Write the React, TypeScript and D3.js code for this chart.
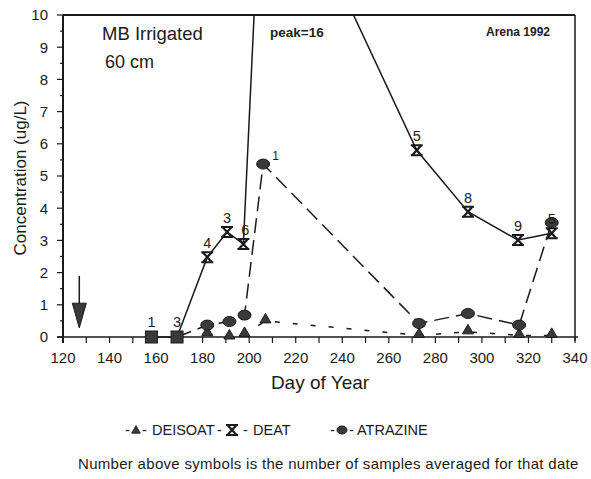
import React from "react";
import * as d3 from "d3";

// ---- data ----
const squareDays = [158, 169];
const squareLabels = ["1", "3"];

const deatDays = [158, 169, 182, 190.5, 197.5, 206, 272, 294, 315.5, 330];
const deatVals = [0, 0, 2.48, 3.26, 2.89, 16, 5.8, 3.89, 3.01, 3.22];
const deatLabels = ["", "", "4", "3", "6", "", "5", "8", "9", "5"];

const atrazineDays = [169, 182, 191.5, 198, 206, 273, 294, 316, 330];
const atrazineVals = [0, 0.37, 0.48, 0.68, 5.37, 0.42, 0.73, 0.37, 3.55];
const atrazineLabels = ["", "", "", "", "1", "", "", "", ""];

const deisoatDays = [182, 191.5, 198, 207, 273, 294, 316, 330];
const deisoatVals = [0.1, 0, 0.08, 0.5, 0.05, 0.16, 0.05, 0.05];

const xTicks = [120, 140, 160, 180, 200, 220, 240, 260, 280, 300, 320, 340];
const yTicks = [0, 1, 2, 3, 4, 5, 6, 7, 8, 9, 10];
const arrowDay = 127;
const arrowTop = 1.9;
const arrowTip = 0.28;

const W = 591, H = 479;
const font = "'Liberation Sans', Arial, Helvetica, sans-serif";

export default function App() {
  const x = d3.scaleLinear().domain([120, 340]).range([63, 575]);
  const y = d3.scaleLinear().domain([0, 10]).range([337, 15]);
  const line = d3.line<[number, number]>().x(d => x(d[0])).y(d => y(d[1]));

  const deatPts: [number, number][] = deatDays.map((d, i) => [d, deatVals[i]]);
  const atrPts: [number, number][] = atrazineDays.map((d, i) => [d, atrazineVals[i]]);
  const deiPts: [number, number][] = deisoatDays.map((d, i) => [d, deisoatVals[i]]);

  const minorX = d3.range(120, 341, 10);
  const minorY = d3.range(0, 10.01, 0.5);

  const ink = "#1a1a1a";
  const fill = "#3a3a3a";

  const hourglass = (cx: number, cy: number, k: number) => (
    <g key={"h" + k} transform={`translate(${cx},${cy})`}>
      <path d="M-6,-5 L6,-5 M-6,5 L6,5" stroke={ink} strokeWidth={2} />
      <path d="M-4.5,-5 L4.5,5 M4.5,-5 L-4.5,5" stroke={ink} strokeWidth={2.2} />
    </g>
  );
  const tri = (cx: number, cy: number, k: number, s = 1) => (
    <path key={"t" + k} transform={`translate(${cx},${cy}) scale(${s})`} d="M0,-5.5 L5.5,4 L-5.5,4 Z" fill={fill} stroke={ink} strokeWidth={1} />
  );

  return (
    <svg width={W} height={H} style={{ position: "absolute", left: 0, top: 0, background: "#fff" }} fontFamily={font}>
      <defs>
        <clipPath id="plot">
          <rect x={x(120)} y={y(10)} width={x(340) - x(120)} height={y(0) - y(10) + 8} />
        </clipPath>
      </defs>
      <rect width={W} height={H} fill="#fff" />

      {/* frame */}
      <line x1={x(120)} x2={x(340)} y1={y(10)} y2={y(10)} stroke={ink} strokeWidth={2} />
      <line x1={x(340)} x2={x(340)} y1={y(10)} y2={y(0) + 4} stroke={ink} strokeWidth={1.5} />
      <line x1={x(120)} x2={x(120)} y1={y(10)} y2={y(0) + 6} stroke={ink} strokeWidth={2} />
      <line x1={x(120) - 6} x2={x(340) + 3} y1={y(0)} y2={y(0)} stroke={ink} strokeWidth={1.5} />

      {/* y ticks */}
      {minorY.map(v => (
        <line key={"my" + v} x1={x(120) - (Number.isInteger(v) ? 6 : 3)} x2={x(120)} y1={y(v)} y2={y(v)} stroke={ink} strokeWidth={1.2} />
      ))}
      {yTicks.map(v => (
        <text key={"yt" + v} x={48} y={y(v)} dy="0.36em" textAnchor="end" fontSize={15} fill={ink}>{v}</text>
      ))}
      {/* x ticks */}
      {minorX.map(v => (
        <line key={"mx" + v} x1={x(v)} x2={x(v)} y1={y(0)} y2={y(0) + 6} stroke={ink} strokeWidth={1.2} />
      ))}
      {xTicks.map(v => (
        <text key={"xt" + v} x={x(v)} y={y(0) + 26} textAnchor="middle" fontSize={15} fill={ink}>{v}</text>
      ))}

      {/* axis titles */}
      <text x={320} y={389} textAnchor="middle" fontSize={19} fill={ink}>Day of Year</text>
      <text transform={`translate(26,${178}) rotate(-90)`} textAnchor="middle" fontSize={17} fill={ink}>Concentration (ug/L)</text>

      {/* annotations */}
      <text x={102} y={40} fontSize={18.5} fill={ink}>MB Irrigated</text>
      <text x={105} y={68} fontSize={18} fill={ink}>60 cm</text>
      <text x={270} y={37} fontSize={13.5} fontWeight="bold" fill="#222">peak=16</text>
      <text x={486} y={36} fontSize={12} fontWeight="bold" fill="#222">Arena 1992</text>

      {/* arrow */}
      <line x1={x(arrowDay)} x2={x(arrowDay)} y1={y(arrowTop)} y2={y(1)} stroke={ink} strokeWidth={1.5} />
      <path d={`M${x(arrowDay) - 7},${y(1.05)} L${x(arrowDay) + 7},${y(1.05)} L${x(arrowDay)},${y(arrowTip)} Z`} fill={fill} stroke={ink} strokeWidth={1} />

      <g clipPath="url(#plot)">
        <path d={line(deiPts) || ""} fill="none" stroke={ink} strokeWidth={1.5} strokeDasharray="5,13" />
        <path d={line(atrPts) || ""} fill="none" stroke={ink} strokeWidth={1.5} strokeDasharray="15,7" />
        <path d={line(deatPts) || ""} fill="none" stroke={ink} strokeWidth={1.5} />
      </g>

      {/* markers */}
      {deisoatDays.map((d, i) => tri(x(d), y(deisoatVals[i]) - 2, i))}
      {atrazineDays.map((d, i) => d === 169 ? null : (
        <ellipse key={"c" + i} cx={x(d)} cy={y(atrazineVals[i])} rx={6.5} ry={5} fill={fill} stroke={ink} strokeWidth={1} />
      ))}
      {deatDays.map((d, i) => (deatVals[i] > 0 && deatVals[i] <= 10) ? hourglass(x(d), y(deatVals[i]), i) : null)}
      {squareDays.map((d, i) => (
        <rect key={"s" + i} x={x(d) - 6} y={y(0) - 6} width={12} height={12} fill={fill} stroke={ink} strokeWidth={1} />
      ))}

      {/* sample counts */}
      {squareDays.map((d, i) => (
        <text key={"sl" + i} x={x(d)} y={y(0) - 10} textAnchor="middle" fontSize={14.5} fill={ink}>{squareLabels[i]}</text>
      ))}
      {deatDays.map((d, i) => deatLabels[i] && deatVals[i] <= 10 ? (
        <text key={"dl" + i} x={x(d) + (d === 197.5 ? 2 : 0)} y={y(deatVals[i]) - 9} textAnchor="middle" fontSize={14.5} fill={ink}>{deatLabels[i]}</text>
      ) : null)}
      {atrazineDays.map((d, i) => atrazineLabels[i] ? (
        <text key={"al" + i} x={x(d) + 9} y={y(atrazineVals[i]) - 4} fontSize={12} fill={ink}>{atrazineLabels[i]}</text>
      ) : null)}

      {/* legend */}
      <g fontSize={14.5} fill={ink}>
        <text x={125} y={435}>-</text>
        {tri(136, 430, 100, 0.8)}
        <text x={142} y={435}>-</text>
        <text x={152} y={435}>DEISOAT</text>
        <text x={217} y={435}>-</text>
        {hourglass(232, 430, 100)}
        <text x={243} y={435}>-</text>
        <text x={253} y={435}>DEAT</text>
        <text x={330} y={435}>-</text>
        <ellipse cx={342} cy={430} rx={5} ry={4} fill={fill} stroke={ink} />
        <text x={349} y={435}>-</text>
        <text x={357} y={435}>ATRAZINE</text>
      </g>
      <text x={78} y={469} fontSize={15} letterSpacing={0.3} fill={ink}>Number above symbols is the number of samples averaged for that date</text>
    </svg>
  );
}
